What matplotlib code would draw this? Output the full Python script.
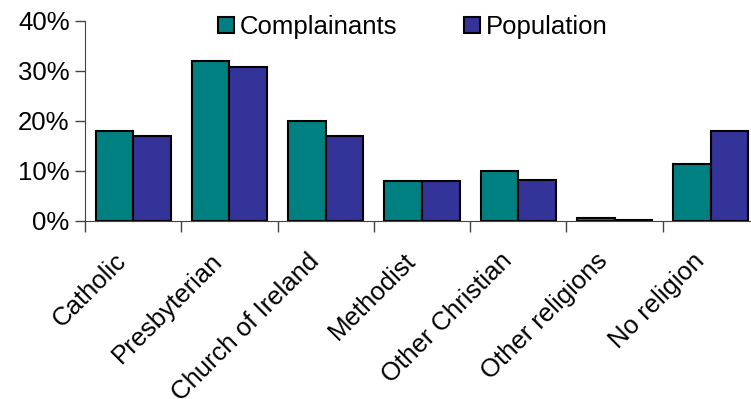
import matplotlib
matplotlib.use("Agg")
import matplotlib.pyplot as plt
import matplotlib.transforms as mtransforms
import numpy as np
from matplotlib.ticker import FuncFormatter, FixedLocator

plt.rcParams['font.family'] = ['Liberation Sans', 'DejaVu Sans']

categories = ["Catholic", "Presbyterian", "Church of Ireland", "Methodist",
              "Other Christian", "Other religions", "No religion"]
complainants = [18, 32, 20, 8, 10, 0.7, 11.5]
population = [17.1, 30.8, 17.1, 8, 8.3, 0.3, 18]

fig = plt.figure(figsize=(7.51, 3.99), dpi=100)
ax = fig.add_axes([85/751, 1-221/399, 674/751, 200/399])

x = np.arange(len(categories))
w = 0.39
ax.bar(x - w/2, complainants, w, color='#008080', edgecolor='black', linewidth=1.5, label='Complainants')
ax.bar(x + w/2, population, w, color='#333399', edgecolor='black', linewidth=1.5, label='Population')

ax.set_xlim(-0.5, len(categories) - 0.5)
ax.set_ylim(0, 40)
ax.set_yticks([0, 10, 20, 30, 40])
ax.yaxis.set_major_formatter(FuncFormatter(lambda v, p: f"{v:.0f}%"))
ax.tick_params(axis='y', labelsize=18.5, length=7, width=1, color='#444444', pad=4)

ax.set_xticks(x)
ax.set_xticklabels(categories, rotation=45, ha='right', va='top', rotation_mode='anchor', fontsize=18.5)
ax.tick_params(axis='x', which='major', length=0, pad=20)
shift = mtransforms.ScaledTranslation(-19/100, 0, fig.dpi_scale_trans)
for lab in ax.get_xticklabels():
    lab.set_transform(lab.get_transform() + shift)
ax.xaxis.set_minor_locator(FixedLocator(np.arange(-0.5, len(categories), 1)))
ax.tick_params(axis='x', which='minor', length=8, width=1, color='#444444')

for s in ['top', 'right']:
    ax.spines[s].set_visible(False)
ax.spines['left'].set_color('#444444')
ax.spines['bottom'].set_color('#444444')

leg = fig.legend(loc='center', bbox_to_anchor=(413/751, 1-27/399), ncol=2, frameon=False,
                 fontsize=18.5, handlelength=0.6, handleheight=0.6, handletextpad=0.25,
                 columnspacing=2.6)

fig.savefig("out.png", dpi=100)
